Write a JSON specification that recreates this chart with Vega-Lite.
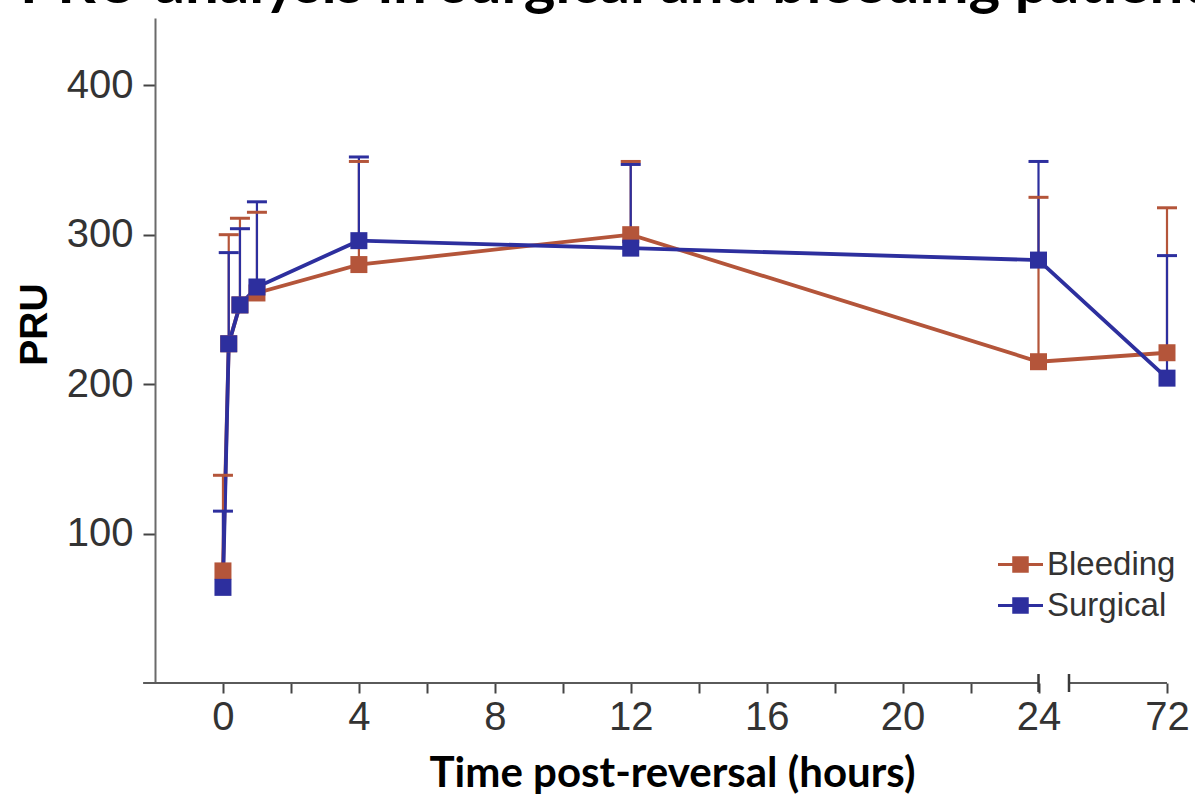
{
  "$schema": "https://vega.github.io/schema/vega-lite/v6.json",
  "autosize": {"type": "none"},
  "width": 1012,
  "height": 665,
  "padding": {"left": 155, "top": 18, "right": 28, "bottom": 118},
  "background": "white",
  "title": {
    "text": "PRU analysis in surgical and bleeding patients",
    "anchor": "start",
    "frame": "group",
    "font": "Lato",
    "fontSize": 60,
    "fontWeight": "bold",
    "color": "#000000",
    "baseline": "alphabetic",
    "offset": 0,
    "dx": -135,
    "dy": 45
  },
  "config": {"view": {"stroke": null}},
  "data": {
    "values": [
      {"group": "Bleeding", "t": 0, "pru": 75, "upper": 139},
      {"group": "Bleeding", "t": 0.17, "pru": 227, "upper": 300},
      {"group": "Bleeding", "t": 0.5, "pru": 253, "upper": 311},
      {"group": "Bleeding", "t": 1, "pru": 261, "upper": 315},
      {"group": "Bleeding", "t": 4, "pru": 280, "upper": 349},
      {"group": "Bleeding", "t": 12, "pru": 300, "upper": 349},
      {"group": "Bleeding", "t": 24, "pru": 215, "upper": 325},
      {"group": "Bleeding", "t": 72, "pru": 221, "upper": 318},
      {"group": "Surgical", "t": 0, "pru": 64, "upper": 115},
      {"group": "Surgical", "t": 0.17, "pru": 227, "upper": 288},
      {"group": "Surgical", "t": 0.5, "pru": 253, "upper": 304},
      {"group": "Surgical", "t": 1, "pru": 265, "upper": 322},
      {"group": "Surgical", "t": 4, "pru": 296, "upper": 352},
      {"group": "Surgical", "t": 12, "pru": 291, "upper": 347},
      {"group": "Surgical", "t": 24, "pru": 283, "upper": 349},
      {"group": "Surgical", "t": 72, "pru": 204, "upper": 286}
    ]
  },
  "layer": [
    {
      "data": {"values": [{"seg": "a"}]},
      "mark": {"type": "rule", "color": "#5a5a5a", "strokeWidth": 2},
      "encoding": {
        "x": {"datum": -2.35, "type": "quantitative"},
        "x2": {"datum": 24},
        "y": {"datum": 0, "type": "quantitative"}
      }
    },
    {
      "data": {"values": [{"seg": "b"}]},
      "mark": {"type": "rule", "color": "#5a5a5a", "strokeWidth": 2},
      "encoding": {
        "x": {"datum": 25, "type": "quantitative"},
        "x2": {"datum": 72},
        "y": {"datum": 0, "type": "quantitative"}
      }
    },
    {
      "data": {"values": [{"brk": 24}, {"brk": 25}]},
      "mark": {"type": "point", "shape": "M0,-1V1", "size": 324, "filled": false, "color": "#3a3a3a", "strokeWidth": 2.5, "opacity": 1},
      "encoding": {
        "x": {"field": "brk", "type": "quantitative"},
        "y": {"datum": 0, "type": "quantitative"}
      }
    },
    {
      "encoding": {
        "x": {
          "field": "t",
          "type": "quantitative",
          "scale": {"domain": [-2, 24, 25, 72], "range": [0, 883.5, 914, 1012], "nice": false, "zero": false},
          "axis": {
            "values": [0, 2, 4, 6, 8, 10, 12, 14, 16, 18, 20, 22, 24, 72],
            "labelExpr": "(datum.value % 4 == 0 || datum.value == 72) ? datum.label : ''",
            "domain": false,
            "grid": false,
            "ticks": true,
            "tickSize": 10,
            "tickWidth": 2,
            "tickColor": "#444444",
            "labelFont": "Liberation Sans",
            "labelFontSize": 40,
            "labelColor": "#333333",
            "labelPadding": 4,
            "labelOverlap": false,
            "labelFlush": false,
            "labelBound": false,
            "title": "Time post-reversal (hours)",
            "titleFont": "Lato",
            "titleFontWeight": "bold",
            "titleFontSize": 42,
            "titleColor": "#000000",
            "titleX": 517,
            "titleY": 103,
            "titleBaseline": "alphabetic",
            "titleAlign": "center"
          }
        },
        "y": {
          "field": "pru",
          "type": "quantitative",
          "scale": {"domain": [0, 445], "nice": false, "zero": true},
          "axis": {
            "values": [100, 200, 300, 400],
            "domain": true,
            "domainColor": "#6a6a6a",
            "domainWidth": 2,
            "grid": false,
            "tickSize": 12,
            "tickWidth": 2,
            "tickColor": "#444444",
            "labelFont": "Liberation Sans",
            "labelFontSize": 40,
            "labelColor": "#333333",
            "labelPadding": 10,
            "labelOverlap": false,
            "title": "PRU",
            "titleFont": "Liberation Sans",
            "titleFontWeight": "bold",
            "titleFontSize": 39,
            "titleColor": "#000000",
            "titleX": -121,
            "titleY": 306,
            "titleAngle": 270,
            "titleAlign": "center",
            "titleBaseline": "middle"
          }
        },
        "color": {
          "field": "group",
          "type": "nominal",
          "scale": {"domain": ["Bleeding", "Surgical"], "range": ["#B4553A", "#2D2F9E"]},
          "legend": {
            "title": null,
            "orient": "none",
            "legendX": 849,
            "legendY": 530,
            "padding": 0,
            "symbolType": "M-2,0H2M-0.6,-0.6H0.6V0.6H-0.6Z",
            "symbolSize": 506,
            "symbolStrokeWidth": 3,
            "labelFont": "Liberation Sans",
            "labelFontSize": 33,
            "labelColor": "#333333",
            "labelOffset": 10,
            "rowPadding": 7,
            "encode": {
              "symbols": {
                "update": {
                  "fill": {"scale": "color", "field": "value"},
                  "stroke": {"scale": "color", "field": "value"},
                  "opacity": {"value": 1},
                  "fillOpacity": {"value": 1},
                  "strokeWidth": {"value": 3}
                }
              }
            }
          }
        }
      },
      "layer": [
        {
          "mark": {"type": "line", "strokeWidth": 3.8},
          "encoding": {}
        },
        {
          "mark": {"type": "rule", "strokeWidth": 2.2},
          "encoding": {"y2": {"field": "upper"}}
        },
        {
          "mark": {"type": "point", "shape": "M-1,0H1", "size": 400, "filled": false, "strokeWidth": 3, "opacity": 1},
          "encoding": {"y": {"field": "upper", "type": "quantitative"}}
        },
        {
          "mark": {"type": "square", "size": 289, "filled": true, "opacity": 1},
          "encoding": {}
        }
      ]
    }
  ]
}
